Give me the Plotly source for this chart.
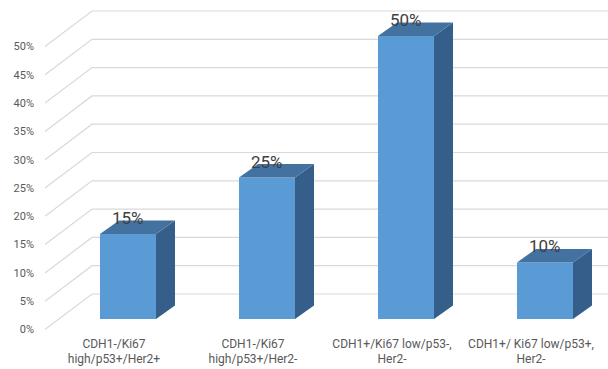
import plotly.graph_objects as go

# Data
categories = [
    "CDH1-/Ki67<br>high/p53+/Her2+",
    "CDH1-/Ki67<br>high/p53+/Her2-",
    "CDH1+/Ki67 low/p53-,<br>Her2-",
    "CDH1+/ Ki67 low/p53+,<br>Her2-",
]
values = [15, 25, 50, 10]          # percent
tick_values = [0, 5, 10, 15, 20, 25, 30, 35, 40, 45, 50]

# Styling / geometry of the pseudo-3D look
FRONT = "#5B9BD5"
TOP = "#4472A0"
SIDE = "#355F8A"
GRID = "#D9D9D9"
FONT = "Roboto, Open Sans, sans-serif"

W, H = 608, 369
ML, MB = 40, 0
PX_CAT = 139.0      # pixels per category step
PX_PCT = 5.66       # pixels per percent
X0_PX, Y0_PX = 128.0, 319.0   # first bar centre / baseline in pixels

BAR_W = 0.403
DX_D, DY_D = 19 / PX_CAT, 13.5 / PX_PCT       # bar depth
DX_F, DY_F = -14 / PX_CAT, -10.5 / PX_PCT     # floor front edge
DX_B, DY_B = 33 / PX_CAT, 25 / PX_PCT         # back wall
X_LEFT = (59 - X0_PX) / PX_CAT                # left wall edge in bar plane
LINE_GAP = 15 / PX_PCT                        # category label line spacing
LABEL_DROP = 15.5 / PX_PCT                    # first label line below floor edge

x_rng = [(ML - X0_PX) / PX_CAT, (W - X0_PX) / PX_CAT]
y_rng = [(Y0_PX - (H - MB)) / PX_PCT, Y0_PX / PX_PCT]

xs = list(range(len(values)))

fig = go.Figure()

# Front faces
fig.add_trace(go.Bar(
    x=xs, y=values, width=BAR_W,
    marker=dict(color=FRONT, line=dict(width=0)),
    hoverinfo="skip", showlegend=False,
))

# Side and top faces
for x, v in zip(xs, values):
    r, l = x + BAR_W / 2, x - BAR_W / 2
    fig.add_trace(go.Scatter(
        x=[r, r + DX_D, r + DX_D, r, r],
        y=[0, DY_D, v + DY_D, v, 0],
        mode="lines", fill="toself", fillcolor=SIDE,
        line=dict(width=0, color=SIDE), hoverinfo="skip", showlegend=False,
    ))
    fig.add_trace(go.Scatter(
        x=[l, r, r + DX_D, l + DX_D, l],
        y=[v, v, v + DY_D, v + DY_D, v],
        mode="lines", fill="toself", fillcolor=TOP,
        line=dict(width=0, color=TOP), hoverinfo="skip", showlegend=False,
    ))

# Value labels
for x, v in zip(xs, values):
    fig.add_annotation(
        x=x, y=v, yshift=16, text=f"{v}%", showarrow=False,
        font=dict(family=FONT, size=17, color="#404040"),
    )

# Category labels along the floor's front edge, each line centred
lx, ly, lt = [], [], []
for x, c in zip(xs, categories):
    for k, line in enumerate(c.split("<br>")):
        lx.append(x + DX_F)
        ly.append(DY_F - LABEL_DROP - LINE_GAP * k)
        lt.append(line)
fig.add_trace(go.Scatter(
    x=lx, y=ly, text=lt, mode="text", textposition="middle center",
    textfont=dict(family=FONT, size=12, color="#595959"),
    hoverinfo="skip", showlegend=False, cliponaxis=False,
))

# Wall gridlines: slanted side-wall segment plus back-wall segment
for t in tick_values:
    fig.add_shape(
        type="path", layer="below",
        path=(f"M {X_LEFT + DX_F},{t + DY_F} "
              f"L {X_LEFT + DX_B},{t + DY_B} "
              f"L {x_rng[1] + 1},{t + DY_B}"),
        line=dict(color=GRID, width=1.2),
    )

# Value axis whose labels sit at the front ends of the gridlines
fig.add_trace(go.Scatter(x=[None], y=[None], xaxis="x", yaxis="y2",
                         hoverinfo="skip", showlegend=False))

fig.update_layout(
    width=W, height=H,
    margin=dict(l=ML, r=0, t=0, b=MB),
    paper_bgcolor="white", plot_bgcolor="white",
    showlegend=False,
    xaxis=dict(range=x_rng, visible=False, fixedrange=True),
    yaxis=dict(range=y_rng, visible=False, fixedrange=True),
    yaxis2=dict(
        range=[y_rng[0] - DY_F, y_rng[1] - DY_F], overlaying="y", side="left",
        anchor="x", tickmode="array", tickvals=tick_values,
        ticktext=[f"{t}%" for t in tick_values],
        showgrid=False, zeroline=False, showline=False, ticks="",
        tickfont=dict(family=FONT, size=11, color="#595959"),
        ticklabelstandoff=5, fixedrange=True,
    ),
)

fig.write_html("out.html")
